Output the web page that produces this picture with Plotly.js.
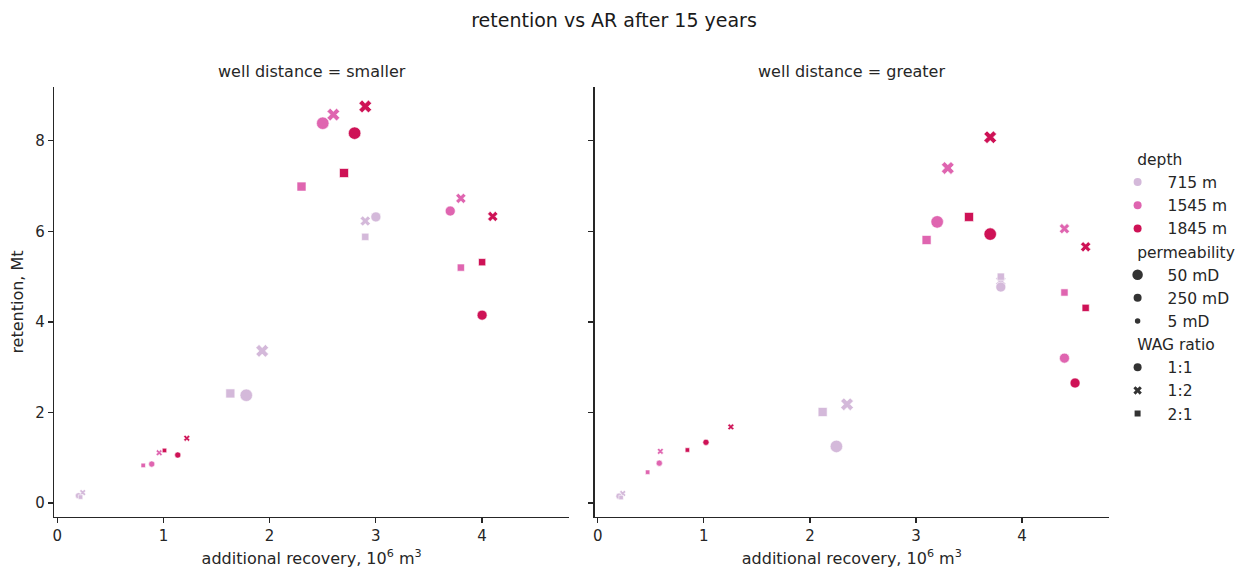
<!DOCTYPE html>
<html><head><meta charset="utf-8">
<script src="https://cdn.plot.ly/plotly-3.0.1.min.js"></script>
<style>html,body{margin:0;padding:0;background:#fff}#chart{width:1248px;height:572px}</style>
</head><body><div id="chart"></div>
<script>
// ---- data ----
const depthLevels = ['715 m', '1545 m', '1845 m'];
const permLevels = ['50 mD', '250 mD', '5 mD'];
const wagLevels = ['1:1', '1:2', '2:1'];
const groupTitles = ['depth', 'permeability', 'WAG ratio'];
const panelTitles = ['well distance = smaller', 'well distance = greater'];

// cases ordered: depth (outer) x permeability x WAG ratio (inner)
const caseDepth = ['715 m','715 m','715 m','715 m','715 m','715 m','715 m','715 m','715 m',
                   '1545 m','1545 m','1545 m','1545 m','1545 m','1545 m','1545 m','1545 m','1545 m',
                   '1845 m','1845 m','1845 m','1845 m','1845 m','1845 m','1845 m','1845 m','1845 m'];
const casePerm = ['50 mD','50 mD','50 mD','250 mD','250 mD','250 mD','5 mD','5 mD','5 mD',
                  '50 mD','50 mD','50 mD','250 mD','250 mD','250 mD','5 mD','5 mD','5 mD',
                  '50 mD','50 mD','50 mD','250 mD','250 mD','250 mD','5 mD','5 mD','5 mD'];
const caseWag = ['1:1','1:2','2:1','1:1','1:2','2:1','1:1','1:2','2:1',
                 '1:1','1:2','2:1','1:1','1:2','2:1','1:1','1:2','2:1',
                 '1:1','1:2','2:1','1:1','1:2','2:1','1:1','1:2','2:1'];

// well distance = smaller
const smallerAR  = [1.78, 1.93, 1.63,  3.00, 2.90, 2.90,  0.20, 0.24, 0.22,
                    2.50, 2.60, 2.30,  3.70, 3.80, 3.80,  0.89, 0.96, 0.81,
                    2.80, 2.90, 2.70,  4.00, 4.10, 4.00,  1.135, 1.22, 1.01];
const smallerRet = [2.38, 3.36, 2.42,  6.32, 6.23, 5.88,  0.16, 0.23, 0.13,
                    8.39, 8.58, 6.99,  6.45, 6.73, 5.20,  0.86, 1.11, 0.83,
                    8.17, 8.76, 7.29,  4.15, 6.33, 5.32,  1.06, 1.43, 1.16];
// well distance = greater
const greaterAR  = [2.25, 2.35, 2.12,  3.80, 3.80, 3.80,  0.20, 0.235, 0.22,
                    3.20, 3.30, 3.10,  4.40, 4.40, 4.40,  0.58, 0.59, 0.47,
                    3.70, 3.70, 3.50,  4.50, 4.60, 4.60,  1.02, 1.255, 0.845];
const greaterRet = [1.25, 2.18, 2.01,  4.77, 4.90, 5.00,  0.15, 0.21, 0.12,
                    6.21, 7.40, 5.81,  3.20, 6.06, 4.65,  0.88, 1.14, 0.68,
                    5.94, 8.08, 6.32,  2.65, 5.66, 4.31,  1.34, 1.68, 1.17];

const xTicks = [0, 1, 2, 3, 4];
const yTicks = [0, 2, 4, 6, 8];

// ---- styles ----
const FONT = 'DejaVu Sans, Verdana, sans-serif';
const INK = '#262626';
const depthColor = {'715 m': '#d4b9da', '1545 m': '#df65b0', '1845 m': '#ce1256'};
const permSize = {'50 mD': 12.5, '250 mD': 10, '5 mD': 6.2};
const wagSymbol = {'1:1': 'circle', '1:2': 'x', '2:1': 'square'};
const symbolScale = {'circle': 1, 'x': 0.9, 'square': 0.72};
const drawRank = {'x': 0, 'circle': 1, 'square': 2};
const legendPermSize = {'50 mD': 10.5, '250 mD': 8, '5 mD': 5.5};
const legendWagSize = {'1:1': 8, '1:2': 7.5, '2:1': 6};
const TITLE_INDENT = '\u00a0\u00a0\u00a0\u00a0\u00a0';

const panels = [
  {x: smallerAR, y: smallerRet, xa: 'x', ya: 'y'},
  {x: greaterAR, y: greaterRet, xa: 'x2', ya: 'y2'}
];

const traces = [];
panels.forEach(p => {
  depthLevels.forEach(d => {
    const idx = caseDepth.map((v, i) => v === d ? i : -1).filter(i => i >= 0)
      .sort((a, b) => drawRank[wagSymbol[caseWag[a]]] - drawRank[wagSymbol[caseWag[b]]] || a - b);
    const sym = idx.map(i => wagSymbol[caseWag[i]]);
    traces.push({
      type: 'scatter', mode: 'markers',
      x: idx.map(i => p.x[i]), y: idx.map(i => p.y[i]),
      xaxis: p.xa, yaxis: p.ya, showlegend: false,
      hovertext: idx.map(i => d + ', ' + casePerm[i] + ', WAG ' + caseWag[i]),
      marker: {
        color: depthColor[d],
        opacity: 1,
        symbol: sym,
        size: idx.map((i, k) => permSize[casePerm[i]] * symbolScale[sym[k]]),
        line: {color: '#ffffff', width: 0.6}
      }
    });
  });
});

// legend entries
function legendTrace(name, group, title, color, symbol, size) {
  return {type: 'scatter', mode: 'markers', x: [null], y: [null], xaxis: 'x', yaxis: 'y',
          name: name, legendgroup: group, legendgrouptitle: {text: TITLE_INDENT + title},
          marker: {color: color, opacity: 1, symbol: symbol, size: size, line: {width: 0}}};
}
depthLevels.forEach(d => traces.push(legendTrace(d, 'depth', groupTitles[0], depthColor[d], 'circle', 8)));
permLevels.forEach(p => traces.push(legendTrace(p, 'perm', groupTitles[1], '#333333', 'circle', legendPermSize[p])));
wagLevels.forEach(w => traces.push(legendTrace(w, 'wag', groupTitles[2], '#333333', wagSymbol[w], legendWagSize[w])));

const ML = 54, MR = 138.6, MT = 87.2, MB = 55.3;
const W = 1248 - ML - MR;
const H = 572 - MT - MB;
const leftDom = [0, (569.4 - ML) / W];
const rightDom = [(594.8 - ML) / W, 1];

const axisCommon = {
  showline: true, linecolor: INK, linewidth: 1.25, mirror: false,
  ticks: 'outside', ticklen: 5, tickwidth: 1.25, tickcolor: INK,
  showgrid: false, zeroline: false, automargin: false,
  tickfont: {family: FONT, size: 15, color: INK}
};
const xTitle = {text: 'additional recovery, 10<sup>6</sup> m<sup>3</sup>', font: {family: FONT, size: 16, color: INK}, standoff: 8};

const layout = {
  width: 1248, height: 572,
  paper_bgcolor: '#ffffff', plot_bgcolor: '#ffffff',
  margin: {l: ML, r: MR, t: MT, b: MB, pad: 0, autoexpand: false},
  title: {text: 'retention vs AR after 15 years', font: {family: FONT, size: 19, color: '#1a1a1a'},
          xref: 'container', x: 614 / 1248, xanchor: 'center',
          yref: 'container', y: 1 - 20 / 572, yanchor: 'middle'},
  xaxis: Object.assign({}, axisCommon, {domain: leftDom, anchor: 'y', range: [-0.03, 4.82], tickvals: xTicks, title: xTitle}),
  xaxis2: Object.assign({}, axisCommon, {domain: rightDom, anchor: 'y2', range: [-0.03, 4.82], tickvals: xTicks, title: xTitle}),
  yaxis: Object.assign({}, axisCommon, {domain: [0, 1], anchor: 'x', range: [-0.31, 9.19], tickvals: yTicks,
          title: {text: 'retention, Mt', font: {family: FONT, size: 16, color: INK}, standoff: 7}}),
  yaxis2: Object.assign({}, axisCommon, {domain: [0, 1], anchor: 'x2', range: [-0.31, 9.19], tickvals: yTicks, showticklabels: false}),
  showlegend: true,
  legend: {
    x: (1108 - ML) / W, xanchor: 'left', xref: 'paper',
    y: (516.7 - 142.5) / H, yanchor: 'top', yref: 'paper',
    font: {family: FONT, size: 15.5, color: INK},
    grouptitlefont: {family: FONT, size: 15.5, color: INK},
    itemwidth: 50, tracegroupgap: 0, traceorder: 'grouped',
    bgcolor: 'rgba(0,0,0,0)', borderwidth: 0
  },
  annotations: panelTitles.map((t, k) => ({
    text: t, showarrow: false, xref: 'paper', yref: 'paper',
    x: k === 0 ? (leftDom[0] + leftDom[1]) / 2 : (rightDom[0] + rightDom[1]) / 2,
    y: (516.7 - 72) / H, xanchor: 'center', yanchor: 'middle',
    font: {family: FONT, size: 16, color: INK}
  }))
};

Plotly.newPlot('chart', traces, layout, {displayModeBar: false, staticPlot: true});
</script>
</body></html>
